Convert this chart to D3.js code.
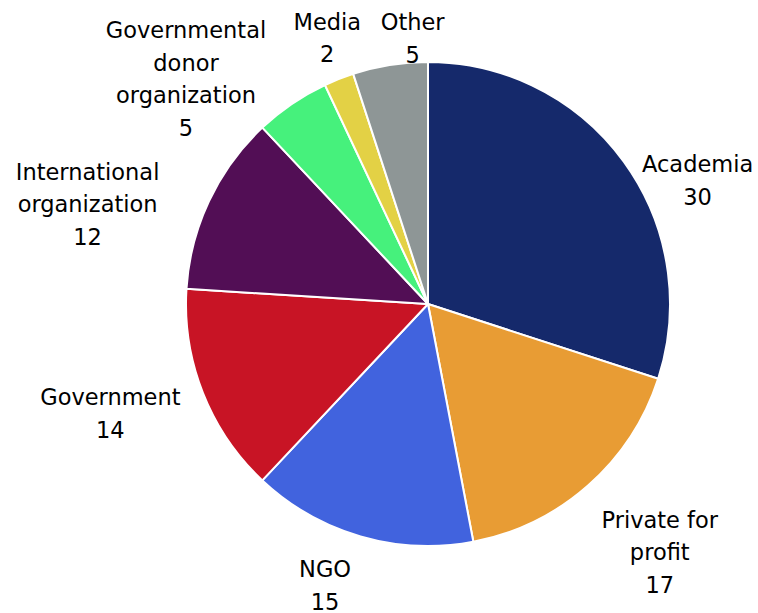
<!DOCTYPE html>
<html>
<head>
<meta charset="utf-8">
<script src="https://cdn.jsdelivr.net/npm/d3@7"></script>
<style>
  body { margin: 0; background: #fff; }
  svg { display: block; }
</style>
</head>
<body>
<svg width="758" height="613"></svg>
<script>
// data, clockwise from 12 o'clock
let categories = ["Academia", "Private for profit", "NGO", "Government",
                  "International organization", "Governmental donor organization",
                  "Media", "Other"];
let values = [30, 17, 15, 14, 12, 5, 2, 5];
// how each label is broken into lines
let labelLines = [["Academia"], ["Private for", "profit"], ["NGO"], ["Government"],
                  ["International", "organization"], ["Governmental", "donor", "organization"],
                  ["Media"], ["Other"]];
let colors = ["#15296b", "#e89c34", "#4163de", "#c81425",
              "#520e55", "#46f17c", "#e3d145", "#8e9696"];

// label nudges relative to the centroid at labelR (Excel's "best fit" is irregular)
let labelNudge = [[35, 47], [40, 31], [-22, 3], [-48, 3], [-78, 24], [-79, 15], [6, 4], [30, 21]];

let cx = 428, cy = 304, r = 242, labelR = 290;
let lineH = 32.5;

let svg = d3.select("svg");
let g = svg.append("g").attr("transform", `translate(${cx},${cy})`);

let pie = d3.pie().sort(null).value(d => d);
let arcs = pie(values);

let arc = d3.arc().innerRadius(0).outerRadius(r);
let labelArc = d3.arc().innerRadius(labelR).outerRadius(labelR);

g.selectAll("path")
  .data(arcs)
  .enter()
  .append("path")
  .attr("d", arc)
  .attr("fill", (d, i) => colors[i])
  .attr("stroke", "#fff")
  .attr("stroke-width", 2)
  .attr("stroke-linejoin", "round");

let labels = g.selectAll("text")
  .data(arcs)
  .enter()
  .append("text")
  .attr("font-family", "'DejaVu Sans', Verdana, sans-serif")
  .attr("font-size", 22.5)
  .attr("fill", "#000")
  .attr("text-anchor", "middle")
  .attr("transform", (d, i) => {
    let c = labelArc.centroid(d);
    return `translate(${c[0] + labelNudge[i][0]},${c[1] + labelNudge[i][1]})`;
  });

labels.each(function(d, i) {
  let lines = labelLines[i].concat([String(values[i])]);
  let t = d3.select(this);
  let y0 = -(lines.length - 1) * lineH / 2;
  lines.forEach((s, k) => {
    t.append("tspan")
      .attr("x", 0)
      .attr("y", y0 + k * lineH)
      .attr("dy", "0.35em")
      .text(s);
  });
});
</script>
</body>
</html>
